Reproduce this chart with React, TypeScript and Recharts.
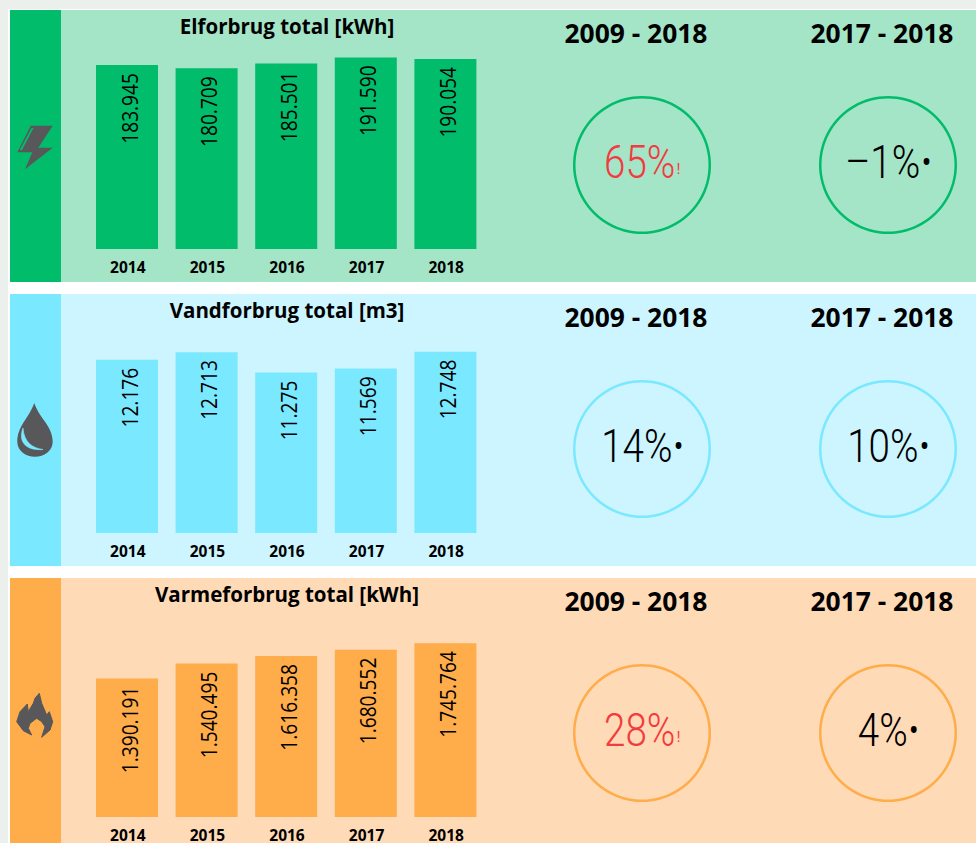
import React from 'react';
import { BarChart, Bar, XAxis, YAxis, LabelList, PieChart, Pie, Cell } from 'recharts';

const years = ['2014', '2015', '2016', '2017', '2018'];
const elValues = [183945, 180709, 185501, 191590, 190054];
const waterValues = [12176, 12713, 11275, 11569, 12748];
const heatValues = [1390191, 1540495, 1616358, 1680552, 1745764];

const periods = ['2009 - 2018', '2017 - 2018'];
const elChanges = ['65%', '-1%'];
const waterChanges = ['14%', '10%'];
const heatChanges = ['28%', '4%'];

const FONT = '"Open Sans", sans-serif';
const RED = '#f33b3f';

const thousands = (v: number) => String(v).replace(/\B(?=(\d{3})+$)/g, '.');

function BarLabel(props: any) {
  const { x, y, width, value } = props;
  const cx = x + width / 2 + 2;
  const top = y + 8;
  return (
    <text
      transform={`translate(${cx},${top}) rotate(-90) scale(0.87,1)`}
      textAnchor="end"
      dominantBaseline="central"
      fontFamily={FONT}
      fontSize={22}
      fill="#000"
    >
      {thousands(value)}
    </text>
  );
}

function Ring({ left, top, color }: { left: number; top: number; color: string }) {
  return (
    <div style={{ position: 'absolute', left, top }}>
      <PieChart width={140} height={140} margin={{ top: 0, right: 0, bottom: 0, left: 0 }}>
        <Pie
          data={[{ name: 'ring', value: 100 }]}
          dataKey="value"
          cx={70}
          cy={70}
          innerRadius={66.5}
          outerRadius={69}
          startAngle={90}
          endAngle={-270}
          stroke="none"
          isAnimationActive={false}
        >
          <Cell fill={color} />
        </Pie>
      </PieChart>
    </div>
  );
}

function Change({ text, cx, top }: { text: string; cx: number; top: number }) {
  const alert = parseInt(text, 10) > 20;
  const color = alert ? RED : '#000';
  return (
    <div
      style={{
        position: 'absolute',
        left: cx - 100,
        top,
        width: 200,
        textAlign: 'center',
        whiteSpace: 'nowrap',
        fontFamily: 'Roboto, sans-serif',
        fontWeight: 300,
        fontSize: 47,
        lineHeight: '60px',
        color,
        transform: 'scaleX(0.82)',
      }}
    >
      {text.replace('-', '\u2013')}
      <span
        style={{
          position: 'relative',
          top: alert ? -4 : -6,
          marginLeft: 2,
          fontSize: alert ? 14 : 30,
          fontWeight: alert ? 500 : 700,
        }}
      >
        {alert ? '!' : '\u2022'}
      </span>
    </div>
  );
}

function Panel(p: {
  top: number;
  dark: string;
  light: string;
  title: string;
  values: number[];
  max: number;
  changes: string[];
  icon: React.ReactNode;
}) {
  const rows = years.map((year, i) => ({ year, value: p.values[i] }));
  return (
    <div style={{ position: 'absolute', left: 10, top: p.top, width: 966, height: 272, background: p.light }}>
      <div style={{ position: 'absolute', left: 0, top: 0, width: 51, height: 272, background: p.dark }}>
        <svg width={51} height={272} style={{ display: 'block' }}>
          {p.icon}
        </svg>
      </div>
      <div
        style={{
          position: 'absolute',
          left: 77,
          top: 3,
          width: 400,
          textAlign: 'center',
          fontFamily: FONT,
          fontWeight: 700,
          fontSize: 20.5,
          lineHeight: '26px',
          color: '#000',
        }}
      >
        {p.title}
      </div>
      <div style={{ position: 'absolute', left: 77, top: 0 }}>
        <BarChart width={398} height={272} data={rows} margin={{ top: 0, right: 0, bottom: 0, left: 0 }} barCategoryGap={0}>
          <XAxis
            dataKey="year"
            axisLine={false}
            tickLine={false}
            height={33}
            interval={0}
            tickMargin={7}
            dx={1}
            tick={{ fontFamily: FONT, fontWeight: 700, fontSize: 15.5, fill: '#000' }}
          />
          <YAxis hide domain={[0, p.max]} />
          <Bar dataKey="value" fill={p.dark} barSize={62} isAnimationActive={false}>
            <LabelList dataKey="value" content={BarLabel} />
          </Bar>
        </BarChart>
      </div>
      {periods.map((period, i) => (
        <div
          key={period}
          style={{
            position: 'absolute',
            left: (i === 0 ? 626 : 872) - 100,
            top: 5,
            width: 200,
            textAlign: 'center',
            fontFamily: FONT,
            fontWeight: 700,
            fontSize: 26.4,
            lineHeight: '36px',
            color: '#000',
          }}
        >
          {period}
        </div>
      ))}
      <Ring left={562} top={85} color={p.dark} />
      <Ring left={808} top={85} color={p.dark} />
      <Change text={p.changes[0]} cx={632} top={122} />
      <Change text={p.changes[1]} cx={878} top={122} />
    </div>
  );
}

const ICON = '#58585a';

const boltIcon = (
  <g>
    <polygon points="42.7,115.7 20.7,115.7 7.3,142.3 22.3,142.3 15,159.3 42.7,137.7 28.3,137.7" fill={ICON} />
    <polygon points="21.5,118 23.5,118 12,140 9.7,140" fill="#00bc6b" />
  </g>
);

const dropIcon = (
  <g>
    <path
      d="M24.3 109 C29 124 42.7 132 42.7 147.7 C42.7 157 34 162.7 25 162.7 C16 162.7 7.3 157 7.3 147.7 C7.3 132 19 124 24.3 109 Z"
      fill={ICON}
    />
    <path d="M13 134 C8 147 15 157 33 155.5 C22 154 14 148 13 134 Z" fill="#7ae8ff" stroke="#7ae8ff" strokeWidth={0.6} />
  </g>
);

const flameIcon = (
  <polygon
    points="29.3,115.3 31.7,125.3 36.7,137 39.3,133.7 42.7,143.7 40,152 31.7,159.3 35,148.7 31.7,143.7 26.7,140.3 20,145.3 18.3,150.3 21.7,157 13.3,152.7 6.7,143.7 10,133.7 17.3,126 18.3,133.7 23.3,125.3 25,120.3"
    fill={ICON}
    stroke={ICON}
    strokeLinejoin="round"
  />
);

export default function App() {
  return (
    <div style={{ position: 'absolute', left: 0, top: 0, width: 976, height: 843, overflow: 'hidden', background: '#fff' }}>
      <div style={{ position: 'absolute', left: 0, top: 0, width: 976, height: 9, background: '#ecf0ed' }} />
      <div style={{ position: 'absolute', left: 0, top: 0, width: 8, height: 843, background: '#ecf0ed' }} />
      <Panel
        top={10}
        dark="#00bc6b"
        light="#a4e4c7"
        title="Elforbrug total [kWh]"
        values={elValues}
        max={239000}
        changes={elChanges}
        icon={boltIcon}
      />
      <Panel
        top={294}
        dark="#7ae8ff"
        light="#ccf5ff"
        title="Vandforbrug total [m3]"
        values={waterValues}
        max={16800}
        changes={waterChanges}
        icon={dropIcon}
      />
      <Panel
        top={578}
        dark="#ffac4a"
        light="#ffdab6"
        title="Varmeforbrug total [kWh]"
        values={heatValues}
        max={2400000}
        changes={heatChanges}
        icon={flameIcon}
      />
    </div>
  );
}
